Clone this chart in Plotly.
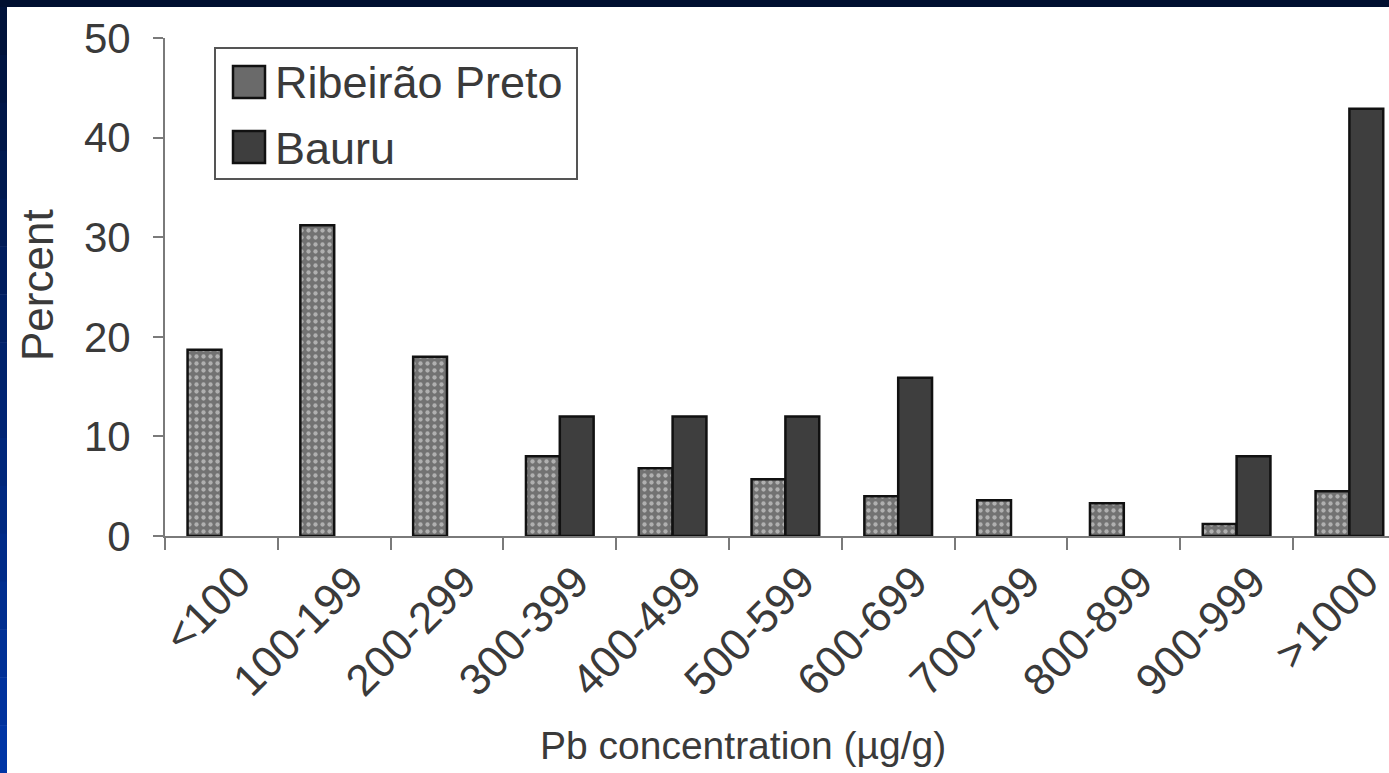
import plotly.graph_objects as go

categories = ["<100", "100-199", "200-299", "300-399", "400-499", "500-599",
              "600-699", "700-799", "800-899", "900-999", ">1000"]
ribeirao = [18.7, 31.2, 18.0, 8.0, 6.8, 5.7, 4.0, 3.6, 3.3, 1.2, 4.5]
bauru = [None, None, None, 12.0, 12.0, 12.0, 15.9, None, None, 8.0, 42.9]
series_names = ["Ribeirão Preto", "Bauru"]
y_ticks = [0, 10, 20, 30, 40, 50]
x_title = "Pb concentration (µg/g)"
y_title = "Percent"

W, H = 1389, 773
ML, MR, MT, MB = 165, 0, 38, 237
PW, PH = W - ML - MR, H - MT - MB
CAT_PX = 112.8
FONT = "Liberation Sans, Arial, sans-serif"
TXT = "#3a3a3a"
AX = "#7a7a7a"


def px(x):
    return (x - ML) / PW


def py(y):
    return (MT + PH - y) / PH


fig = go.Figure()
fig.add_trace(go.Bar(
    x=categories, y=ribeirao, name=series_names[0],
    marker=dict(color="#7a7a7a", line=dict(color="#111111", width=2.5),
                pattern=dict(shape=".", fgcolor="#eeeeee", bgcolor="#727272",
                             size=7, solidity=0.3)),
    showlegend=False,
))
fig.add_trace(go.Bar(
    x=categories, y=bauru, name=series_names[1],
    marker=dict(color="#3e3e3e", line=dict(color="#111111", width=2.5)),
    showlegend=False,
))

shapes = []
# frame bands (navy gradient on top and left)
shapes.append(dict(type="rect", xref="paper", yref="paper", x0=px(0), x1=px(W),
                   y0=py(7), y1=py(0), fillcolor="#000f30", line=dict(width=0),
                   layer="above"))
n = 16
c0 = (0x00, 0x12, 0x3a)
c1 = (0x00, 0x35, 0xa5)
for i in range(n):
    t = i / (n - 1)
    col = "rgb(%d,%d,%d)" % tuple(int(c0[k] + (c1[k] - c0[k]) * t) for k in range(3))
    ya = 7 + (H - 7) * i / n
    yb = 7 + (H - 7) * (i + 1) / n
    shapes.append(dict(type="rect", xref="paper", yref="paper", x0=px(0), x1=px(7),
                       y0=py(yb + 0.5), y1=py(ya), fillcolor=col, line=dict(width=0),
                       layer="above"))

# legend box
shapes.append(dict(type="rect", xref="paper", yref="paper", x0=px(215), x1=px(577),
                   y0=py(179), y1=py(48), fillcolor="white",
                   line=dict(color="#555555", width=2), layer="above"))
shapes.append(dict(type="rect", xref="paper", yref="paper", x0=px(233), x1=px(265),
                   y0=py(98), y1=py(66), fillcolor="#6a6a6a",
                   line=dict(color="#111111", width=2.5), layer="above"))
shapes.append(dict(type="rect", xref="paper", yref="paper", x0=px(233), x1=px(265),
                   y0=py(163), y1=py(131), fillcolor="#3e3e3e",
                   line=dict(color="#111111", width=2.5), layer="above"))

annotations = [
    dict(text=series_names[0], xref="paper", yref="paper", x=px(273), y=py(82),
         xanchor="left", yanchor="middle", showarrow=False,
         font=dict(family=FONT, size=45, color=TXT)),
    dict(text=series_names[1], xref="paper", yref="paper", x=px(273), y=py(148),
         xanchor="left", yanchor="middle", showarrow=False,
         font=dict(family=FONT, size=45, color=TXT)),
    dict(text=x_title, xref="paper", yref="paper", x=px(743), y=py(745),
         xanchor="center", yanchor="middle", showarrow=False,
         font=dict(family=FONT, size=39, color=TXT)),
    dict(text=y_title, xref="paper", yref="paper", x=px(37), y=py(285),
         xanchor="center", yanchor="middle", showarrow=False, textangle=-90,
         font=dict(family=FONT, size=44, color=TXT)),
]

fig.update_layout(
    width=W, height=H,
    margin=dict(l=ML, r=MR, t=MT, b=MB, pad=0),
    paper_bgcolor="white", plot_bgcolor="white",
    barmode="group", bargap=0.4, bargroupgap=0.0,
    font=dict(family=FONT, color=TXT),
    shapes=shapes, annotations=annotations,
    showlegend=False,
)
fig.update_xaxes(
    type="category", range=[-0.5, -0.5 + PW / CAT_PX],
    showline=True, linecolor=AX, linewidth=2,
    ticks="outside", tickson="boundaries", ticklen=12, tickcolor=AX, tickwidth=2,
    tickangle=-45, tickfont=dict(family=FONT, size=44, color=TXT),
    ticklabelshift=16,
    showgrid=False, zeroline=False,
)
fig.update_yaxes(
    range=[0, 50], tickvals=y_ticks,
    showline=True, linecolor=AX, linewidth=2,
    ticks="outside", ticklen=10, tickcolor=AX, tickwidth=2,
    ticklabelstandoff=14,
    tickfont=dict(family=FONT, size=42, color=TXT),
    showgrid=False, zeroline=False,
)

fig.write_html("out.html", config={"displayModeBar": False},
               post_script="document.body.style.margin='0';document.body.style.padding='0';")
